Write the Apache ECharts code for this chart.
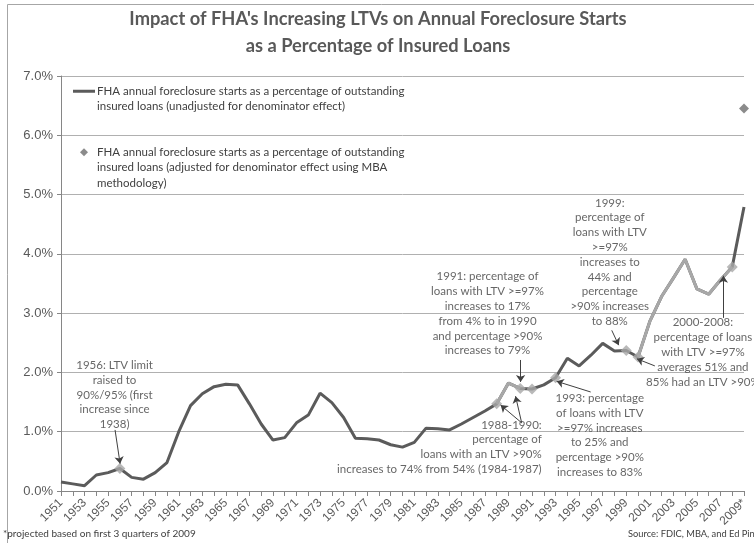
<!DOCTYPE html>
<html><head><meta charset="utf-8">
<script src="https://cdn.jsdelivr.net/npm/echarts@6/dist/echarts.min.js"></script>
<style>html,body{margin:0;padding:0;background:#fff}#c{width:754px;height:543px}</style>
</head><body><div id="c"></div>
<script>
// ---------- DATA ----------
const years = [1951,1952,1953,1954,1955,1956,1957,1958,1959,1960,1961,1962,1963,1964,1965,1966,1967,1968,1969,1970,
  1971,1972,1973,1974,1975,1976,1977,1978,1979,1980,1981,1982,1983,1984,1985,1986,1987,1988,1989,1990,
  1991,1992,1993,1994,1995,1996,1997,1998,1999,2000,2001,2002,2003,2004,2005,2006,2007,2008,2009];
const unadjusted = [0.15,0.12,0.09,0.27,0.31,0.38,0.23,0.20,0.31,0.48,1.00,1.44,1.64,1.76,1.80,1.79,1.47,1.13,0.86,0.90,
  1.15,1.28,1.65,1.49,1.24,0.89,0.88,0.86,0.78,0.74,0.82,1.06,1.05,1.03,1.13,1.24,1.35,1.47,1.82,1.73,
  1.72,1.79,1.91,2.24,2.11,2.29,2.49,2.36,2.37,2.26,2.86,3.28,3.59,3.91,3.41,3.32,3.56,3.78,4.79];
const adjustedYears = [2009];
const adjustedValues = [6.45];
const highlightYears = [1956,1988,1990,1991,1993,1999,2000,2008];
const lightSegments = [[1988,1990],[2000,2008]];
const xTickLabels = ['1951','1953','1955','1957','1959','1961','1963','1965','1967','1969','1971','1973','1975','1977','1979',
  '1981','1983','1985','1987','1989','1991','1993','1995','1997','1999','2001','2003','2005','2007','2009*'];
const yTickLabels = ['0.0%','1.0%','2.0%','3.0%','4.0%','5.0%','6.0%','7.0%'];
const seriesNames = [
  'FHA annual foreclosure starts as a percentage of outstanding\ninsured loans (unadjusted for denominator effect)',
  'FHA annual foreclosure starts as a percentage of outstanding\ninsured loans (adjusted for denominator effect using MBA\nmethodology)'
];
const annotationTexts = [
  '1956: LTV limit\nraised to\n90%/95% (first\nincrease since\n1938)',
  '1988-1990:\npercentage of\nloans with an LTV >90%\nincreases to 74% from 54% (1984-1987)',
  '1991: percentage of\nloans with LTV >=97%\nincreases to 17%\nfrom 4% to in 1990\nand percentage >90%\nincreases to 79%',
  '1993: percentage\nof loans with LTV\n>=97% increases\nto 25% and\npercentage >90%\nincreases to 83%',
  '1999:\npercentage of\nloans with LTV\n>=97%\nincreases to\n44% and\npercentage\n>90% increases\nto 88%',
  '2000-2008:\npercentage of loans\nwith LTV >=97%\naverages 51% and\n85% had an LTV >90%'
];
const footnote = '*projected based on first 3 quarters of 2009';
const sourceNote = 'Source: FDIC, MBA, and Ed Pinto';
const titleText = "Impact of FHA's Increasing LTVs on Annual Foreclosure Starts\nas a Percentage of Insured Loans";

// ---------- LAYOUT (annotation anchors in data space, not data) ----------
const annotationAnchors = [
  {at:[1955.55,1.62], align:'center'},
  {at:[1991.82,0.74], align:'right'},
  {at:[1987.22,2.99], align:'center'},
  {at:[1996.75,0.94], align:'center'},
  {at:[1997.60,3.86], align:'center'},
  {at:[2005.51,2.34], align:'center'}
];
const arrowPaths = [
  [[1955.59,1.03],[1956.02,0.46]],
  [[1990.12,1.15],[1988.33,1.45]],
  [[1990.12,1.15],[1989.60,1.60]],
  [[1990.03,2.21],[1990.03,1.84]],
  [[1995.98,1.67],[1993.09,1.85]],
  [[1997.77,2.71],[1998.36,2.46]],
  [[2001.43,2.11],[1999.90,2.23]],
  [[2007.25,2.92],[2007.25,3.63]]
];

// ---------- BUILD ----------
const DARK = '#5b5b5b', LIGHT = '#a8a8a8', TXT = '#404040';
const ANN_FONT = 'Lato';
const mainData = years.map((y,i)=>[y, unadjusted[i]]);
const lightData = years.map((y,i)=> lightSegments.some(s=>y>=s[0]&&y<=s[1]) ? [y, unadjusted[i]] : [y, '-']);
const hiData = highlightYears.map(y=>[y, unadjusted[years.indexOf(y)]]);
const adjData = adjustedYears.map((y,i)=>[y, adjustedValues[i]]);

const chart = echarts.init(document.getElementById('c'));
chart.setOption({
  animation:false,
  backgroundColor:'#ffffff',
  title:{
    text:titleText, left:373, top:1, textAlign:'center',
    textStyle:{fontFamily:'Lato', fontWeight:'bold', fontSize:18.3, color:'#595959', lineHeight:27}
  },
  grid:{left:61, right:10, top:76, bottom:52, containLabel:false},
  legend:{
    orient:'vertical', left:68, top:63, itemWidth:22, itemHeight:8, itemGap:-1,
    selectedMode:false,
    data:[{name:seriesNames[0], icon:'path://M0,0h22v3h-22z'},
          {name:seriesNames[1], icon:'path://M5,0L10,5L5,10L0,5z'}],
    formatter:function(name){
      const n = name.split('\n').length;
      return '\n'.repeat(n-1) + name;
    },
    textStyle:{fontFamily:ANN_FONT, fontSize:11.5, color:TXT, lineHeight:15.5, padding:[0,0,0,-3]}
  },
  xAxis:{
    type:'value', min:1951, max:2009, interval:1,
    axisLine:{show:true, lineStyle:{color:'#868686'}},
    axisTick:{show:true, length:5, lineStyle:{color:'#868686'}},
    splitLine:{show:false},
    axisLabel:{
      rotate:45, margin:10, fontFamily:'Liberation Sans', fontSize:12, color:'#595959', hideOverlap:false,
      formatter:function(v){
        const k = Math.round(v)-1951;
        return k%2===0 ? xTickLabels[k/2] : '';
      }
    }
  },
  yAxis:{
    type:'value', min:0, max:7, interval:1,
    axisLine:{show:true, lineStyle:{color:'#868686'}},
    axisTick:{show:true, length:4, lineStyle:{color:'#868686'}},
    splitLine:{show:true, lineStyle:{color:'#b0b0b0', width:1}},
    axisLabel:{margin:8, fontFamily:'Liberation Sans', fontSize:13, color:'#595959',
      formatter:function(v){ return yTickLabels[Math.round(v)]; }}
  },
  series:[
    {name:seriesNames[0], type:'line', data:mainData, symbol:'none', z:2,
     itemStyle:{color:DARK}, lineStyle:{color:DARK, width:3}},
    {name:'light', type:'line', data:lightData, symbol:'none', z:3, connectNulls:false,
     itemStyle:{color:LIGHT}, lineStyle:{color:LIGHT, width:3}},
    {name:'highlight', type:'scatter', data:hiData, symbol:'diamond', symbolSize:11, z:4,
     itemStyle:{color:LIGHT}},
    {name:seriesNames[1], type:'scatter', data:adjData, symbol:'diamond', symbolSize:10, z:4,
     itemStyle:{color:'#6e6e6e'}},
    {name:'annotations', type:'scatter', symbolSize:0, z:6, silent:true,
     data:annotationAnchors.map((a,i)=>({value:a.at,
       label:{show:true, position:'inside', align:a.align, verticalAlign:'middle',
              formatter:annotationTexts[i]}})),
     label:{fontFamily:ANN_FONT, fontSize:11.5, color:TXT, lineHeight:14.8}},
    {name:'arrows', type:'lines', coordinateSystem:'cartesian2d', z:5, silent:true,
     symbol:['none','arrow'], symbolSize:7,
     lineStyle:{color:'#404040', width:1, opacity:1},
     data:arrowPaths.map(p=>({coords:p}))}
  ],
  graphic:[
    {type:'rect', shape:{x:7.5, y:4.5, width:800, height:600}, style:{fill:'none', stroke:'#a6a6a6', lineWidth:1}, z:-1},
    {type:'text', left:3, top:529, style:{text:footnote, fontFamily:ANN_FONT, fontSize:10, fill:TXT}},
    {type:'text', left:628, top:529, style:{text:sourceNote, fontFamily:ANN_FONT, fontSize:9.3, fill:TXT}}
  ]
});
</script></body></html>
